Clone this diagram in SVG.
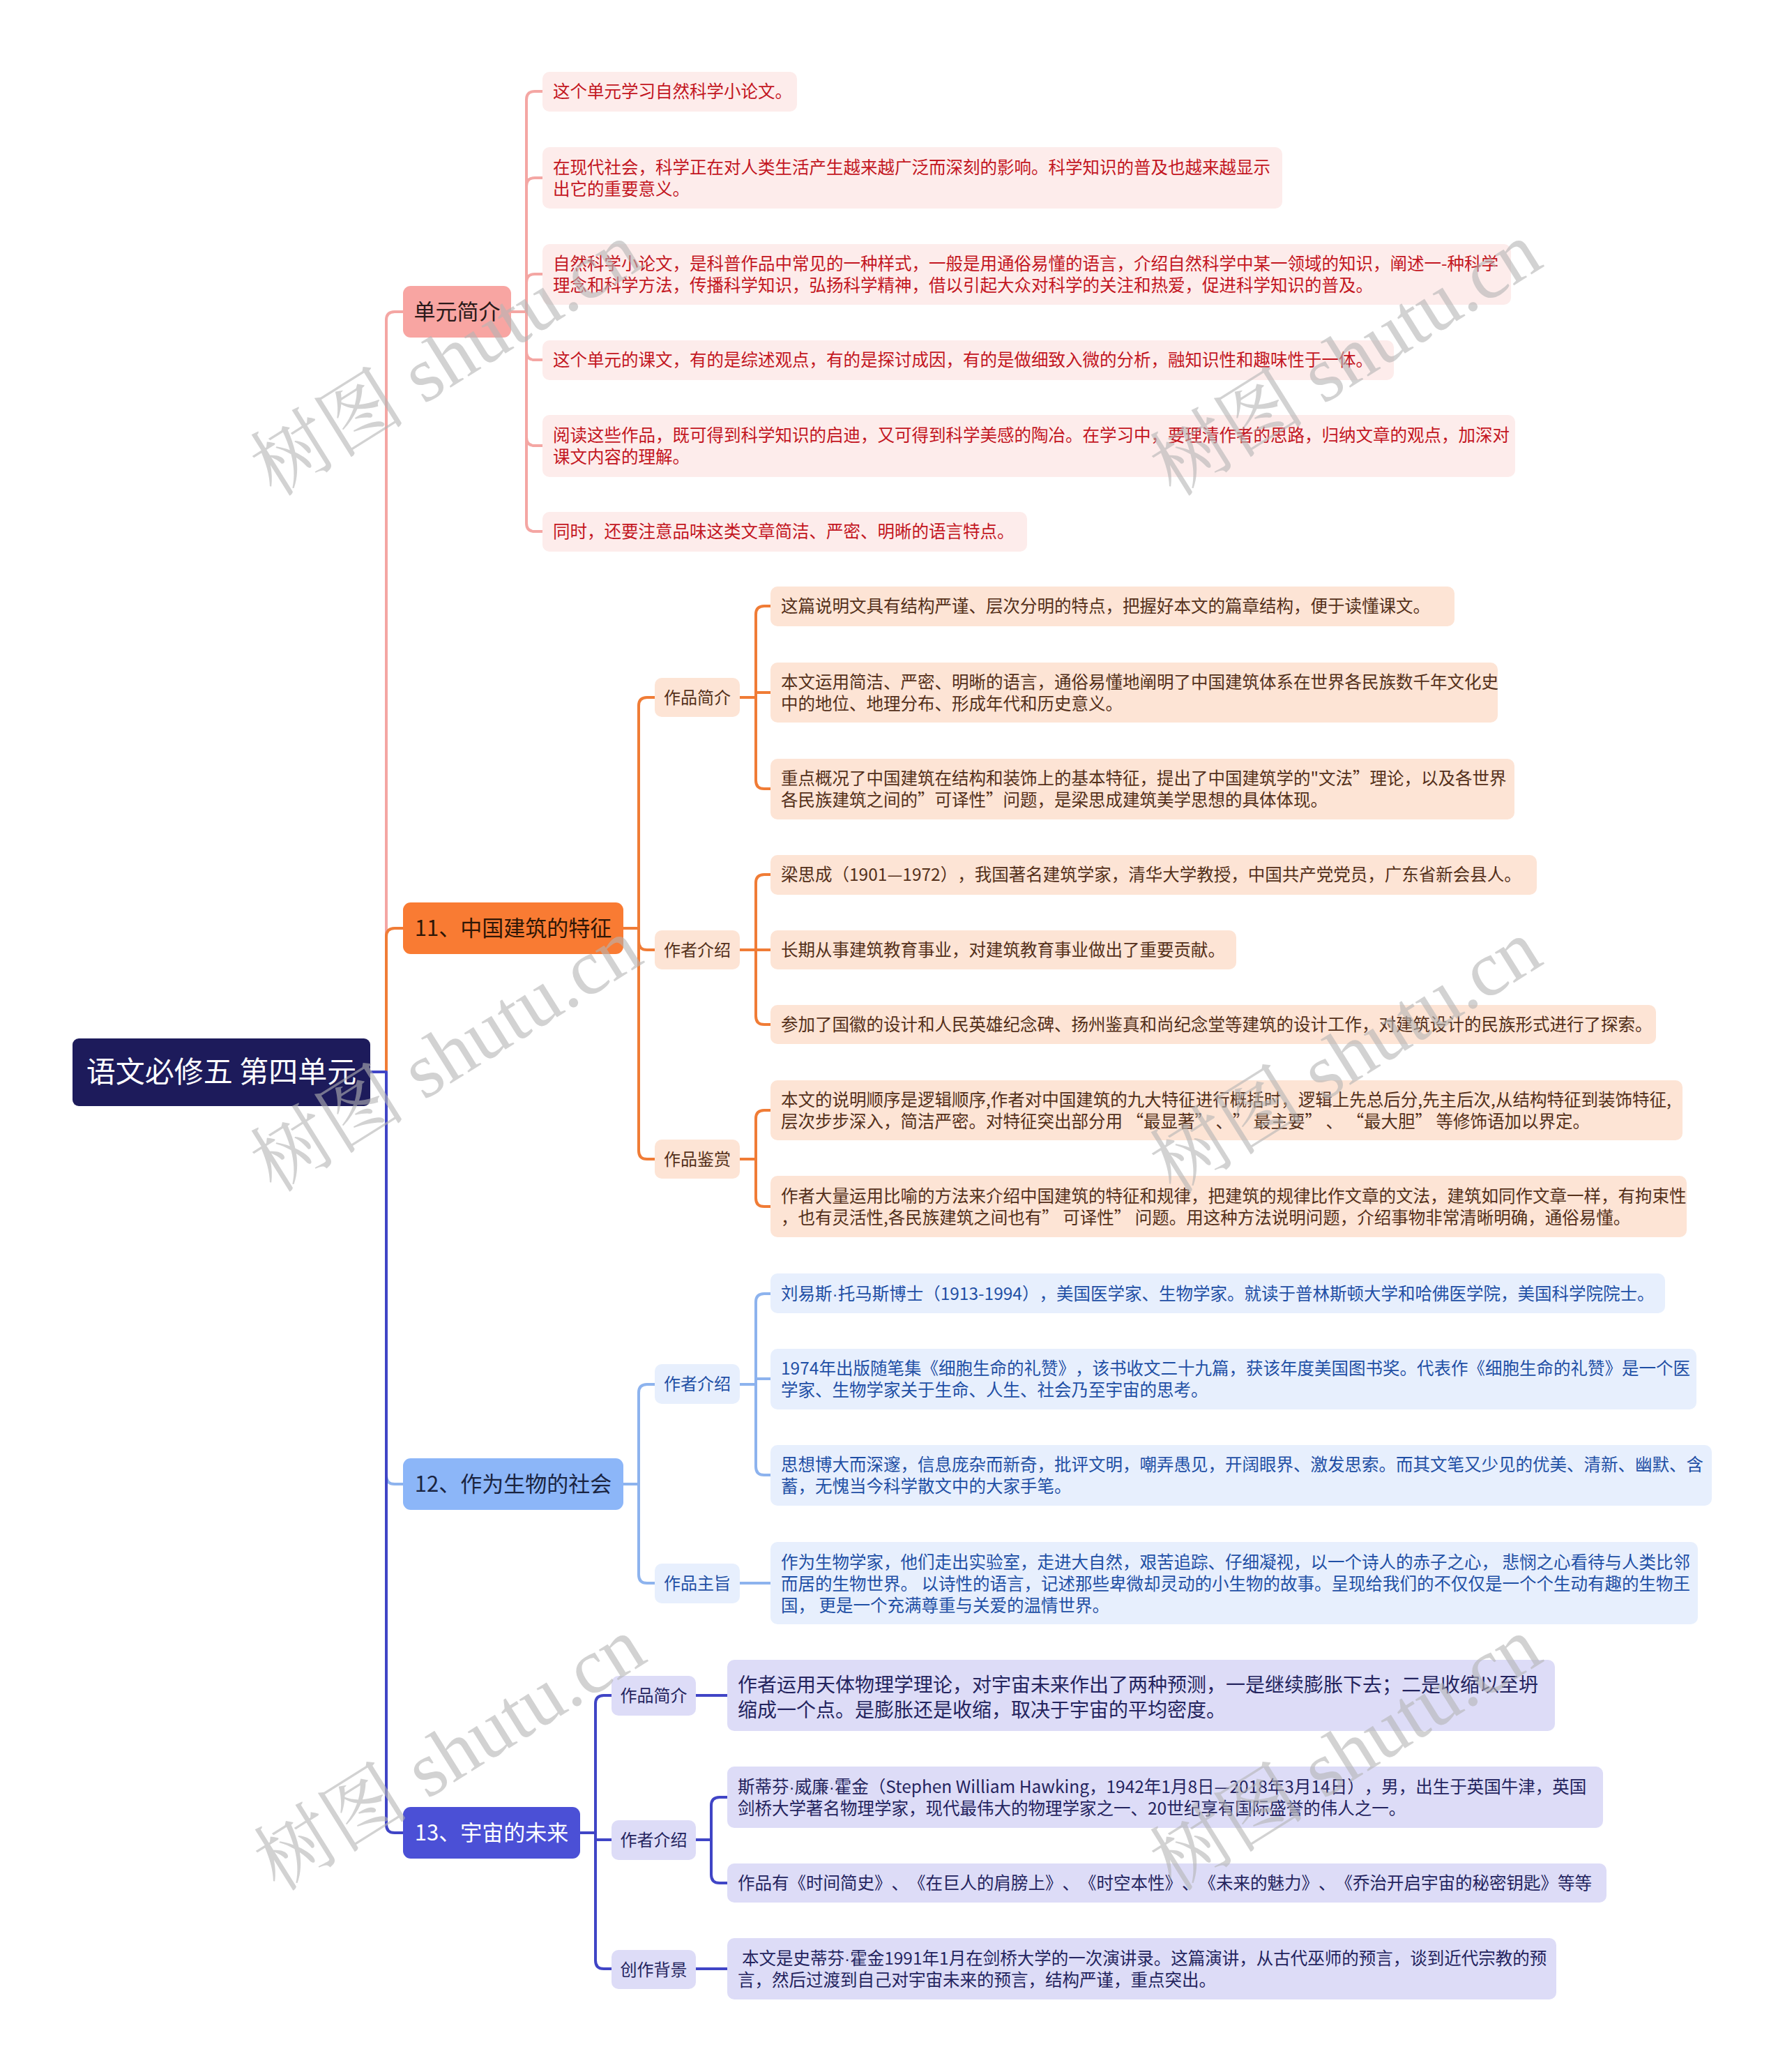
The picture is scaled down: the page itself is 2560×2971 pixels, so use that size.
<svg xmlns="http://www.w3.org/2000/svg" width="2560" height="2971" viewBox="0 0 2560 2971">
<style>
text{font-family:"Noto Sans CJK SC","Noto Sans",sans-serif;text-spacing-trim:space-all}
.dt{font-family:"Liberation Sans",sans-serif}
.cn{fill:none;stroke-width:4;stroke-linecap:round;stroke-linejoin:round}
.cp{stroke:#f4a6a3}.co{stroke:#f07c36}.cb{stroke:#8db3ee}.ci{stroke:#4045c6}
.lf{font-size:24.5px}
.sub{font-size:24px;text-anchor:middle}
.l1{font-size:31px;text-anchor:middle}
.fp{fill:#fdeceb}.tp{fill:#c3161f}
.fo{fill:#fde4d5}.to{fill:#54301a}
.fb{fill:#e7effd}.tb{fill:#1f4fa5}
.fi{fill:#dddcf7}.ti{fill:#24245e}
.wm{font-family:"Liberation Serif","Noto Serif CJK SC","Noto Sans CJK SC",serif;font-size:112px;fill:#b4b4b4;fill-opacity:0.6;text-anchor:middle}
</style>
<rect width="2560" height="2971" fill="#ffffff"/>

<g id="connectors">
  <g id="conn-unit">
    <path class="cn cp" d="M531,1537 H554 V459 Q554,447 566,447 H578"/>
    <path class="cn cp" d="M733,447 H755 V143 Q755,131 767,131 H778"/>
    <path class="cn cp" d="M733,447 H755 V267 Q755,255 767,255 H778"/>
    <path class="cn cp" d="M733,447 H755 V405 Q755,393 767,393 H778"/>
    <path class="cn cp" d="M733,447 H755 V504 Q755,516 767,516 H778"/>
    <path class="cn cp" d="M733,447 H755 V627 Q755,639 767,639 H778"/>
    <path class="cn cp" d="M733,447 H755 V750 Q755,762 767,762 H778"/>
  </g>
  <g id="conn-11">
    <path class="cn co" d="M531,1537 H554 V1343 Q554,1331 566,1331 H578"/>
    <path class="cn co" d="M894,1331 H916 V1012 Q916,1000 928,1000 H939"/>
    <path class="cn co" d="M894,1331 H916 V1350 Q916,1362 928,1362 H939"/>
    <path class="cn co" d="M894,1331 H916 V1650 Q916,1662 928,1662 H939"/>
    <path class="cn co" d="M1061,1000 H1084 V881 Q1084,869 1096,869 H1105"/>
    <path class="cn co" d="M1061,1000 H1084 V993 H1105"/>
    <path class="cn co" d="M1061,1000 H1084 V1119 Q1084,1131 1096,1131 H1105"/>
    <path class="cn co" d="M1061,1362 H1084 V1266 Q1084,1254 1096,1254 H1105"/>
    <path class="cn co" d="M1061,1362 H1105"/>
    <path class="cn co" d="M1061,1362 H1084 V1457 Q1084,1469 1096,1469 H1105"/>
    <path class="cn co" d="M1061,1662 H1084 V1604 Q1084,1592 1096,1592 H1105"/>
    <path class="cn co" d="M1061,1662 H1084 V1718 Q1084,1730 1096,1730 H1105"/>
  </g>
  <g id="conn-12">
    <path class="cn cb" d="M531,1537 H554 V2116 Q554,2128 566,2128 H578"/>
    <path class="cn cb" d="M894,2128 H916 V1997 Q916,1985 928,1985 H939"/>
    <path class="cn cb" d="M894,2128 H916 V2258 Q916,2270 928,2270 H939"/>
    <path class="cn cb" d="M1061,1985 H1084 V1867 Q1084,1855 1096,1855 H1105"/>
    <path class="cn cb" d="M1061,1985 H1084 V1977 H1105"/>
    <path class="cn cb" d="M1061,1985 H1084 V2103 Q1084,2115 1096,2115 H1105"/>
    <path class="cn cb" d="M1061,2270 H1105"/>
  </g>
  <g id="conn-13">
    <path class="cn ci" d="M531,1537 H554 V2616 Q554,2628 566,2628 H578"/>
    <path class="cn ci" d="M832,2628 H854 V2443 Q854,2431 866,2431 H877"/>
    <path class="cn ci" d="M832,2628 H854 V2638 H877"/>
    <path class="cn ci" d="M832,2628 H854 V2811 Q854,2823 866,2823 H877"/>
    <path class="cn ci" d="M998,2431 H1043"/>
    <path class="cn ci" d="M998,2638 H1020 V2589 Q1020,2577 1032,2577 H1043"/>
    <path class="cn ci" d="M998,2638 H1020 V2688 Q1020,2700 1032,2700 H1043"/>
    <path class="cn ci" d="M998,2823 H1043"/>
  </g>
</g>

<g id="root">
  <rect x="104" y="1489" width="427" height="97" rx="9" fill="#1d1b5b"/>
  <text x="317.5" y="1552" font-size="42" fill="#ffffff" text-anchor="middle">语文必修五 第四单元</text>
</g>

<g id="n-unit">
  <rect x="578" y="410" width="155" height="74" rx="11" fill="#f8a5a2"/>
  <text class="l1" x="655.5" y="458" fill="#2a1a1a">单元简介</text>
</g>
<g id="n-11">
  <rect x="578" y="1294" width="316" height="74" rx="11" fill="#f97b33"/>
  <text class="l1" x="736" y="1342" fill="#2e1606">11、中国建筑的特征</text>
</g>
<g id="n-12">
  <rect x="578" y="2091" width="316" height="74" rx="11" fill="#8cb6f8"/>
  <text class="l1" x="736" y="2139" fill="#1a2440">12、作为生物的社会</text>
</g>
<g id="n-13">
  <rect x="578" y="2591" width="254" height="74" rx="11" fill="#4b50d6"/>
  <text class="l1" x="705" y="2639" fill="#ffffff">13、宇宙的未来</text>
</g>

<g id="unit-leaves">
  <g id="u1"><rect class="fp" x="778" y="103" width="365" height="57" rx="10"/>
    <text class="lf tp" x="793" y="140">这个单元学习自然科学小论文。</text></g>
  <g id="u2"><rect class="fp" x="778" y="211" width="1061" height="88" rx="10"/>
    <text class="lf tp" x="793" y="248.5">在现代社会，科学正在对人类生活产生越来越广泛而深刻的影响。科学知识的普及也越来越显示</text>
    <text class="lf tp" x="793" y="279.5">出它的重要意义。</text></g>
  <g id="u3"><rect class="fp" x="778" y="350" width="1389" height="87" rx="10"/>
    <text class="lf tp" x="793" y="386.5">自然科学小论文，是科普作品中常见的一种样式，一般是用通俗易懂的语言，介绍自然科学中某一领域的知识，阐述一-种科学</text>
    <text class="lf tp" x="793" y="417.5">理念和科学方法，传播科学知识，弘扬科学精神，借以引起大众对科学的关注和热爱，促进科学知识的普及。</text></g>
  <g id="u4"><rect class="fp" x="778" y="488" width="1221" height="57" rx="10"/>
    <text class="lf tp" x="793" y="525">这个单元的课文，有的是综述观点，有的是探讨成因，有的是做细致入微的分析，融知识性和趣味性于一体。</text></g>
  <g id="u5"><rect class="fp" x="778" y="595" width="1395" height="89" rx="10"/>
    <text class="lf tp" x="793" y="633">阅读这些作品，既可得到科学知识的启迪，又可得到科学美感的陶冶。在学习中，要理清作者的思路，归纳文章的观点，加深对</text>
    <text class="lf tp" x="793" y="664">课文内容的理解。</text></g>
  <g id="u6"><rect class="fp" x="778" y="734" width="695" height="57" rx="10"/>
    <text class="lf tp" x="793" y="771">同时，还要注意品味这类文章简洁、严密、明晰的语言特点。</text></g>
</g>

<g id="s11">
  <g id="s11-1"><rect class="fo" x="939" y="972" width="122" height="56" rx="10"/><text class="sub to" x="1000" y="1008.5">作品简介</text></g>
  <g id="s11-2"><rect class="fo" x="939" y="1334" width="122" height="56" rx="10"/><text class="sub to" x="1000" y="1370.5">作者介绍</text></g>
  <g id="s11-3"><rect class="fo" x="939" y="1634" width="122" height="56" rx="10"/><text class="sub to" x="1000" y="1670.5">作品鉴赏</text></g>
</g>
<g id="leaves-11">
  <g id="a"><rect class="fo" x="1105" y="841" width="981" height="57" rx="10"/>
    <text class="lf to" x="1120" y="878">这篇说明文具有结构严谨、层次分明的特点，把握好本文的篇章结构，便于读懂课文。</text></g>
  <g id="b"><rect class="fo" x="1105" y="950" width="1043" height="86" rx="10"/>
    <text class="lf to" x="1120" y="986.5">本文运用简洁、严密、明晰的语言，通俗易懂地阐明了中国建筑体系在世界各民族数千年文化史</text>
    <text class="lf to" x="1120" y="1017.5">中的地位、地理分布、形成年代和历史意义。</text></g>
  <g id="c"><rect class="fo" x="1105" y="1088" width="1067" height="87" rx="10"/>
    <text class="lf to" x="1120" y="1125">重点概况了中国建筑在结构和装饰上的基本特征，提出了中国建筑学的"文法”理论，以及各世界</text>
    <text class="lf to" x="1120" y="1156">各民族建筑之间的”可译性”问题，是梁思成建筑美学思想的具体体现。</text></g>
  <g id="d"><rect class="fo" x="1105" y="1226" width="1099" height="57" rx="10"/>
    <text class="lf to" x="1120" y="1263">梁思成（1901—1972），我国著名建筑学家，清华大学教授，中国共产党党员，广东省新会县人。</text></g>
  <g id="e"><rect class="fo" x="1105" y="1334" width="668" height="56" rx="10"/>
    <text class="lf to" x="1120" y="1371">长期从事建筑教育事业，对建筑教育事业做出了重要贡献。</text></g>
  <g id="f"><rect class="fo" x="1105" y="1441" width="1270" height="56" rx="10"/>
    <text class="lf to" x="1120" y="1478">参加了国徽的设计和人民英雄纪念碑、扬州鉴真和尚纪念堂等建筑的设计工作，对建筑设计的民族形式进行了探索。</text></g>
  <g id="g"><rect class="fo" x="1105" y="1549" width="1308" height="86" rx="10"/>
    <text class="lf to" x="1120" y="1585.5">本文的说明顺序是逻辑顺序,作者对中国建筑的九大特征进行概括时，逻辑上先总后分,先主后次,从结构特征到装饰特征,</text>
    <text class="lf to" x="1120" y="1616.5">层次步步深入，简洁严密。对特征突出部分用 “最显著” 、” 最主要” 、 “最大胆” 等修饰语加以界定。</text></g>
  <g id="h"><rect class="fo" x="1105" y="1686" width="1314" height="88" rx="10"/>
    <text class="lf to" x="1120" y="1723.5">作者大量运用比喻的方法来介绍中国建筑的特征和规律，把建筑的规律比作文章的文法，建筑如同作文章一样，有拘束性</text>
    <text class="lf to" x="1120" y="1754.5">，也有灵活性,各民族建筑之间也有” 可译性” 问题。用这种方法说明问题，介绍事物非常清晰明确，通俗易懂。</text></g>
</g>

<g id="s12">
  <g id="s12-1"><rect class="fb" x="939" y="1956" width="122" height="57" rx="10"/><text class="sub tb" x="1000" y="1993">作者介绍</text></g>
  <g id="s12-2"><rect class="fb" x="939" y="2242" width="122" height="57" rx="10"/><text class="sub tb" x="1000" y="2279">作品主旨</text></g>
</g>
<g id="leaves-12">
  <g id="i"><rect class="fb" x="1105" y="1826" width="1283" height="57" rx="10"/>
    <text class="lf tb" x="1120" y="1863.5">刘易斯<tspan class="dt">·</tspan>托马斯博士（1913-1994），美国医学家、生物学家。就读于普林斯顿大学和哈佛医学院，美国科学院院士。</text></g>
  <g id="j"><rect class="fb" x="1105" y="1934" width="1328" height="87" rx="10"/>
    <text class="lf tb" x="1120" y="1971">1974年出版随笔集《细胞生命的礼赞》，该书收文二十九篇，获该年度美国图书奖。代表作《细胞生命的礼赞》是一个医</text>
    <text class="lf tb" x="1120" y="2002">学家、生物学家关于生命、人生、社会乃至宇宙的思考。</text></g>
  <g id="k"><rect class="fb" x="1105" y="2072" width="1350" height="87" rx="10"/>
    <text class="lf tb" x="1120" y="2109">思想博大而深邃，信息庞杂而新奇，批评文明，嘲弄愚见，开阔眼界、激发思索。而其文笔又少见的优美、清新、幽默、含</text>
    <text class="lf tb" x="1120" y="2140">蓄，无愧当今科学散文中的大家手笔。</text></g>
  <g id="l"><rect class="fb" x="1105" y="2211" width="1330" height="118" rx="10"/>
    <text class="lf tb" x="1120" y="2249">作为生物学家，他们走出实验室，走进大自然，艰苦追踪、仔细凝视，以一个诗人的赤子之心， 悲悯之心看待与人类比邻</text>
    <text class="lf tb" x="1120" y="2280">而居的生物世界。 以诗性的语言，记述那些卑微却灵动的小生物的故事。呈现给我们的不仅仅是一个个生动有趣的生物王</text>
    <text class="lf tb" x="1120" y="2311">国， 更是一个充满尊重与关爱的温情世界。</text></g>
</g>

<g id="s13">
  <g id="s13-1"><rect class="fi" x="877" y="2403" width="121" height="57" rx="10"/><text class="sub ti" x="937.5" y="2440">作品简介</text></g>
  <g id="s13-2"><rect class="fi" x="877" y="2610" width="121" height="57" rx="10"/><text class="sub ti" x="937.5" y="2647">作者介绍</text></g>
  <g id="s13-3"><rect class="fi" x="877" y="2796" width="121" height="56" rx="10"/><text class="sub ti" x="937.5" y="2832.5">创作背景</text></g>
</g>
<g id="leaves-13">
  <g id="m"><rect class="fi" x="1043" y="2380" width="1187" height="102" rx="10"/>
    <text class="ti" x="1058" y="2425.5" font-size="28">作者运用天体物理学理论，对宇宙未来作出了两种预测，一是继续膨胀下去；二是收缩以至坍</text>
    <text class="ti" x="1058" y="2462" font-size="28">缩成一个点。是膨胀还是收缩，取决于宇宙的平均密度。</text></g>
  <g id="n"><rect class="fi" x="1043" y="2533" width="1256" height="88" rx="10"/>
    <text class="lf ti" x="1058" y="2570.5">斯蒂芬<tspan class="dt">·</tspan>威廉<tspan class="dt">·</tspan>霍金（Stephen William Hawking，1942年1月8日—2018年3月14日），男，出生于英国牛津，英国</text>
    <text class="lf ti" x="1058" y="2601.5">剑桥大学著名物理学家，现代最伟大的物理学家之一、20世纪享有国际盛誉的伟人之一。</text></g>
  <g id="o"><rect class="fi" x="1043" y="2672" width="1261" height="56" rx="10"/>
    <text class="lf ti" x="1058" y="2709">作品有《时间简史》、《在巨人的肩膀上》、《时空本性》、《未来的魅力》、《乔治开启宇宙的秘密钥匙》等等</text></g>
  <g id="p"><rect class="fi" x="1043" y="2779" width="1189" height="88" rx="10"/>
    <text class="lf ti" x="1064" y="2816.5">本文是史蒂芬<tspan class="dt">·</tspan>霍金1991年1月在剑桥大学的一次演讲录。这篇演讲，从古代巫师的预言，谈到近代宗教的预</text>
    <text class="lf ti" x="1058" y="2847.5">言，然后过渡到自己对宇宙未来的预言，结构严谨，重点突出。</text></g>
</g>

<g id="watermarks">
  <text class="wm" transform="translate(640,515) rotate(-32)" x="0" y="38">树图 shutu.cn</text>
  <text class="wm" transform="translate(1930,515) rotate(-32)" x="0" y="38">树图 shutu.cn</text>
  <text class="wm" transform="translate(640,1513) rotate(-32)" x="0" y="38">树图 shutu.cn</text>
  <text class="wm" transform="translate(1930,1515) rotate(-32)" x="0" y="38">树图 shutu.cn</text>
  <text class="wm" transform="translate(645,2515) rotate(-32)" x="0" y="38">树图 shutu.cn</text>
  <text class="wm" transform="translate(1930,2515) rotate(-32)" x="0" y="38">树图 shutu.cn</text>
</g>
</svg>
